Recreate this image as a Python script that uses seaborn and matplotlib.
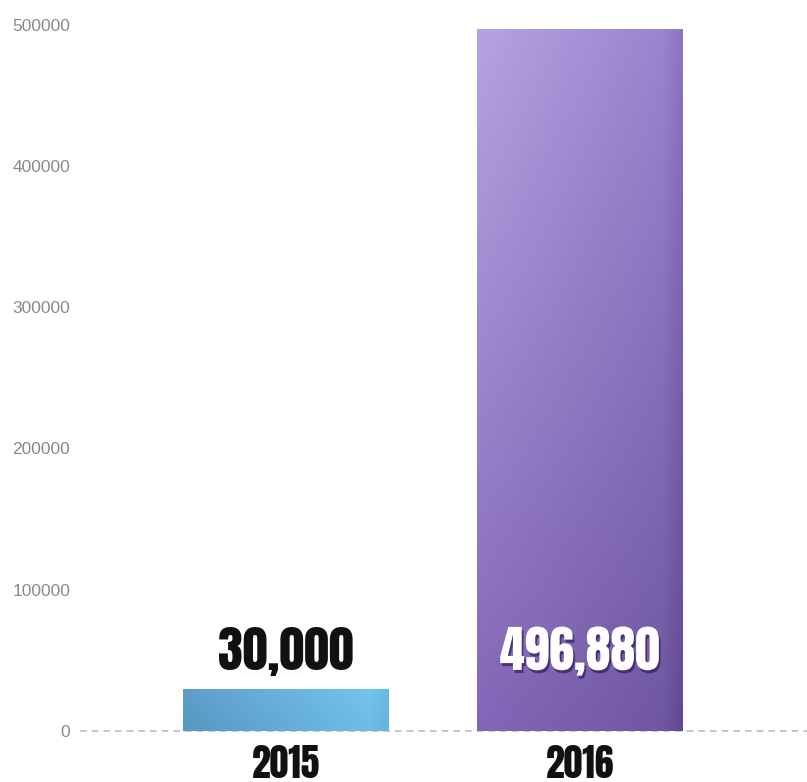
import numpy as np
import pandas as pd
import seaborn as sns
import matplotlib.pyplot as plt
import matplotlib.patheffects as pe
from matplotlib.colors import to_rgb

years = ["2015", "2016"]
values = [30000, 496880]
value_labels = ["30,000", "496,880"]
yticks = [0, 100000, 200000, 300000, 400000, 500000]

sns.set_theme(style="white")
plt.rcParams["font.family"] = ["Liberation Sans", "DejaVu Sans"]
heavy = ["Anton", "DejaVu Sans"]

fig = plt.figure(figsize=(8.07, 7.82), dpi=100)
ax = fig.add_axes([80 / 807, 51 / 782, 727 / 807, 731 / 782])

df = pd.DataFrame({"year": years, "value": values})
sns.barplot(data=df, x="year", y="value", ax=ax, width=0.70, color="#888888",
            errorbar=None, zorder=2)


def corners_grad(tl, tr, bl, br, n=200):
    tl, tr, bl, br = [np.array(to_rgb(c)) for c in (tl, tr, bl, br)]
    u = np.linspace(0, 1, n)[None, :, None]
    v = np.linspace(0, 1, n)[:, None, None]  # 0 top -> 1 bottom
    top = tl * (1 - u) + tr * u
    bot = bl * (1 - u) + br * u
    img = top * (1 - v) + bot * v
    edge = np.clip((u - 0.9) / 0.1, 0, 1) * 0.05
    return np.clip(img - edge, 0, 1)


grads = [
    corners_grad("#5e9fca", "#76c8f2", "#5797c2", "#70c0ea"),
    corners_grad("#b6a4e1", "#9a80cd", "#8366b8", "#6e559f"),
]

for patch, g in zip(ax.patches, grads):
    x0, y0 = patch.get_x(), patch.get_y()
    w, h = patch.get_width(), patch.get_height()
    patch.set_facecolor("none")
    patch.set_edgecolor("none")
    im = ax.imshow(g, extent=[x0, x0 + w, y0, y0 + h], aspect="auto",
                   origin="upper", zorder=2, interpolation="bilinear")
    im.set_clip_path(patch)

ax.set_xlim(-0.70, 1.772)
ax.set_ylim(0, 517340)

ax.axhline(0, color="#bdbdbd", lw=1.2, ls=(0, (4, 3)), zorder=1, clip_on=False)

for s in ax.spines.values():
    s.set_visible(False)
ax.grid(False)
ax.set_xlabel("")
ax.set_ylabel("")
ax.set_yticks(yticks)
ax.set_yticklabels([str(t) for t in yticks], color="#8a8a8a", fontsize=12.5)
ax.tick_params(axis="y", length=0, pad=7)
ax.tick_params(axis="x", length=0, pad=10)
ax.set_xticks(range(len(years)))
ax.set_xticklabels(years, fontsize=27, family=heavy, color="#111111")

for i, lab in enumerate(value_labels):
    kw = dict(xytext=(0, 44), textcoords="offset points", ha="center",
              va="baseline", fontsize=36, family=heavy, zorder=5)
    if i == 0:
        ax.annotate(lab, (i, 0), color="#111111", **kw)
    else:
        ax.annotate(lab, (i, 0), color="white",
                    path_effects=[pe.withSimplePatchShadow(offset=(1.2, -2.2),
                                                           shadow_rgbFace="#2a1850",
                                                           alpha=0.65)], **kw)

fig.savefig("out.png", dpi=100)
